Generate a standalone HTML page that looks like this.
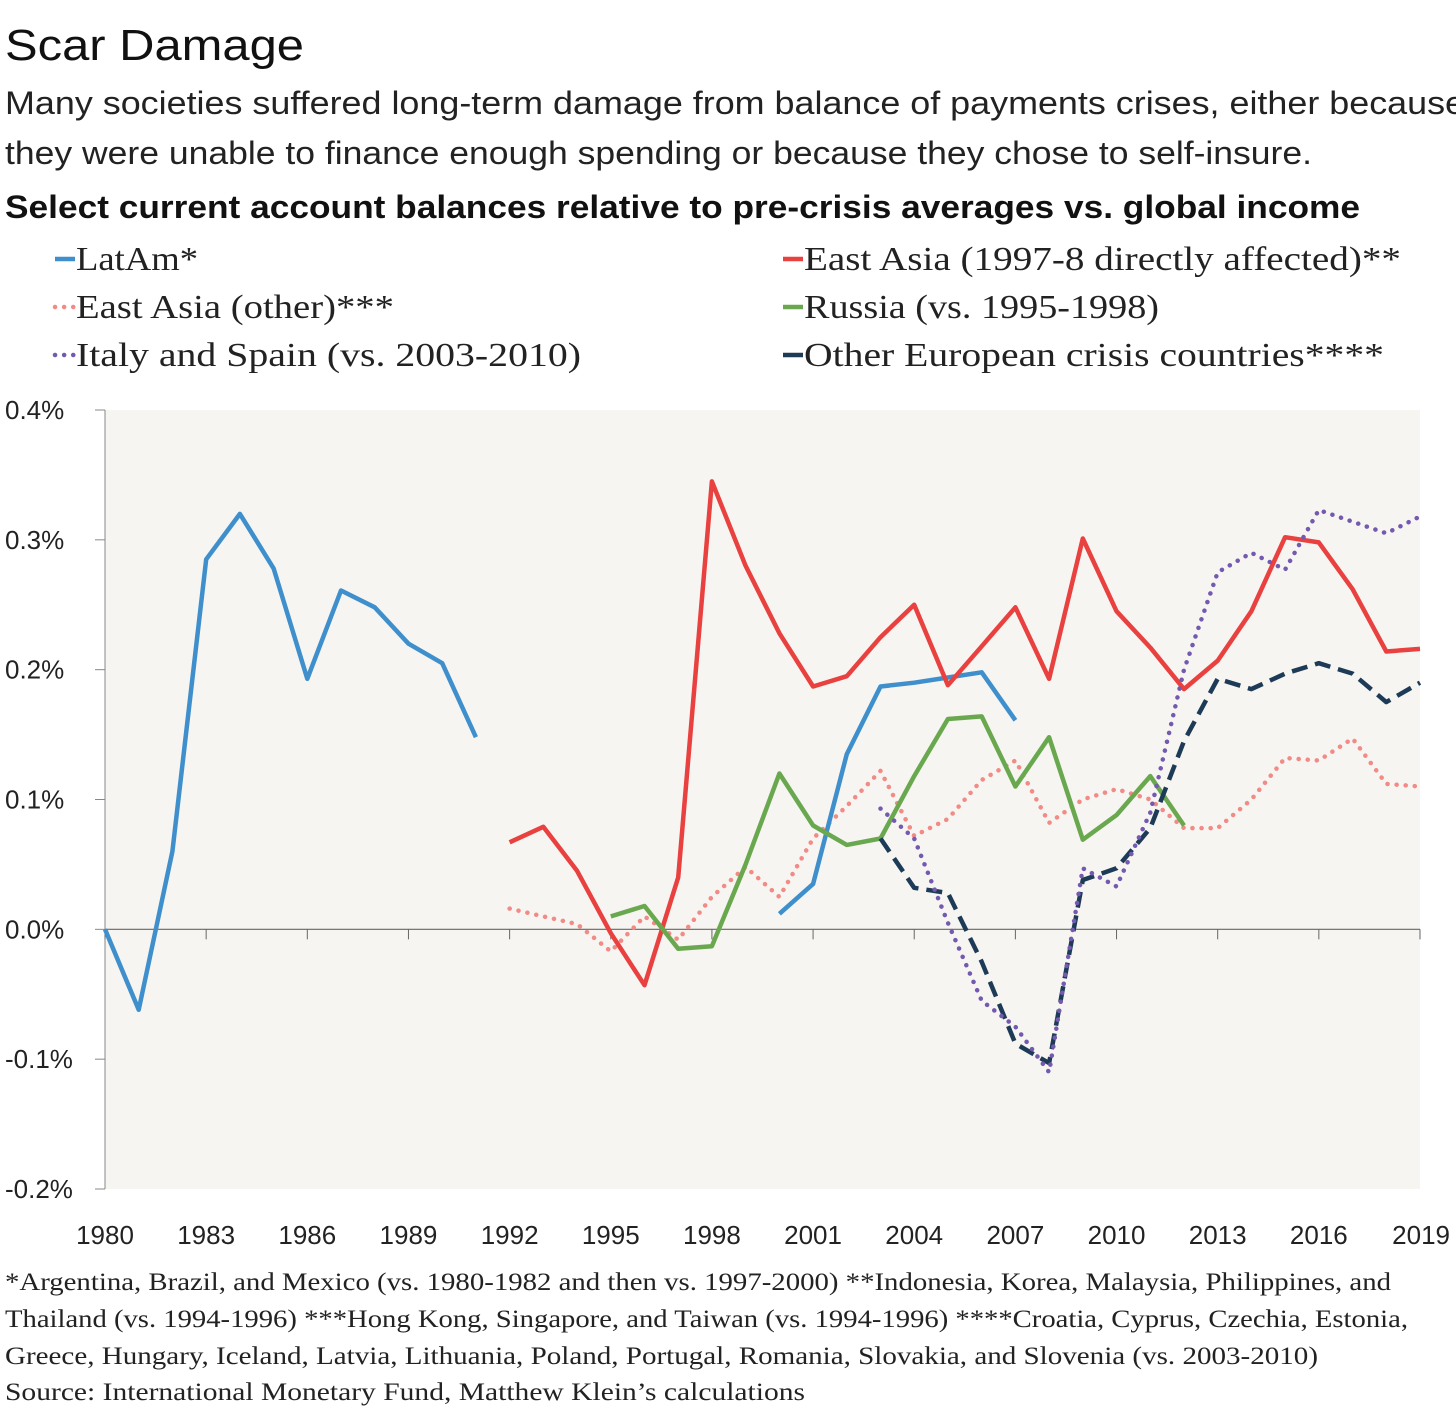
<!DOCTYPE html>
<html><head><meta charset="utf-8"><style>
body{margin:0;background:#fff;}
svg{display:block;}
.sans{font-family:"Liberation Sans",sans-serif;}
.serif{font-family:"Liberation Serif",serif;}
</style></head><body>
<svg id="chart" width="1456" height="1410" viewBox="0 0 1456 1410" xmlns="http://www.w3.org/2000/svg">
<text class="sans" x="5" y="60" font-size="44" fill="#111" textLength="299" lengthAdjust="spacingAndGlyphs">Scar Damage</text>
<text class="sans" x="5" y="114" font-size="32" fill="#222" textLength="1460" lengthAdjust="spacingAndGlyphs">Many societies suffered long-term damage from balance of payments crises, either because</text>
<text class="sans" x="5" y="164" font-size="32" fill="#222" textLength="1307" lengthAdjust="spacingAndGlyphs">they were unable to finance enough spending or because they chose to self-insure.</text>
<text class="sans" x="5" y="218" font-size="32" font-weight="bold" fill="#111" textLength="1355" lengthAdjust="spacingAndGlyphs">Select current account balances relative to pre-crisis averages vs. global income</text>
<g id="legend"></g>
<rect x="105" y="410" width="1315" height="779" fill="#f6f5f1"/>
<g id="axes"></g>
<g id="series"></g>
<g class="serif" font-size="25" fill="#222">
<text x="5" y="1290" textLength="1386" lengthAdjust="spacingAndGlyphs">*Argentina, Brazil, and Mexico (vs. 1980-1982 and then vs. 1997-2000)  **Indonesia, Korea, Malaysia, Philippines, and</text>
<text x="5" y="1327" textLength="1403" lengthAdjust="spacingAndGlyphs">Thailand  (vs. 1994-1996)  ***Hong Kong, Singapore, and Taiwan (vs. 1994-1996)  ****Croatia, Cyprus, Czechia, Estonia,</text>
<text x="5" y="1364" textLength="1313" lengthAdjust="spacingAndGlyphs">Greece, Hungary, Iceland, Latvia, Lithuania, Poland, Portugal, Romania, Slovakia, and Slovenia (vs. 2003-2010)</text>
<text x="5" y="1400" textLength="800" lengthAdjust="spacingAndGlyphs">Source: International Monetary Fund, Matthew Klein’s calculations</text>
</g>
</svg>
<script>
const NS="http://www.w3.org/2000/svg";
const latamYears1=[1980,1981,1982,1983,1984,1985,1986,1987,1988,1989,1990,1991];
const latamValues1=[0,-0.062,0.06,0.285,0.32,0.278,0.193,0.261,0.248,0.22,0.205,0.148];
const latamYears2=[2000,2001,2002,2003,2004,2005,2006,2007];
const latamValues2=[0.012,0.035,0.135,0.187,0.19,0.194,0.198,0.161];
const eaYears=[1992,1993,1994,1995,1996,1997,1998,1999,2000,2001,2002,2003,2004,2005,2006,2007,2008,2009,2010,2011,2012,2013,2014,2015,2016,2017,2018,2019];
const eaAffected=[0.067,0.079,0.045,-0.003,-0.043,0.04,0.345,0.28,0.228,0.187,0.195,0.225,0.25,0.188,0.218,0.248,0.193,0.301,0.245,0.217,0.185,0.207,0.245,0.302,0.298,0.262,0.214,0.216];
const eaOther=[0.016,0.01,0.004,-0.017,0.01,-0.008,0.025,0.048,0.025,0.07,0.095,0.122,0.072,0.085,0.115,0.13,0.082,0.1,0.108,0.1,0.078,0.078,0.1,0.132,0.13,0.147,0.112,0.11];
const russiaYears=[1995,1996,1997,1998,1999,2000,2001,2002,2003,2004,2005,2006,2007,2008,2009,2010,2011,2012];
const russiaValues=[0.01,0.018,-0.015,-0.013,0.05,0.12,0.08,0.065,0.07,0.118,0.162,0.164,0.11,0.148,0.069,0.088,0.118,0.08];
const euYears=[2003,2004,2005,2006,2007,2008,2009,2010,2011,2012,2013,2014,2015,2016,2017,2018,2019];
const italySpain=[0.093,0.07,0.005,-0.055,-0.075,-0.11,0.047,0.033,0.09,0.2,0.275,0.29,0.277,0.323,0.314,0.305,0.318];
const otherEurope=[0.07,0.032,0.028,-0.025,-0.088,-0.103,0.038,0.047,0.078,0.145,0.193,0.185,0.197,0.205,0.197,0.175,0.19];
const yTicks=[0.4,0.3,0.2,0.1,0,-0.1,-0.2];
const yTickLabels=["0.4%","0.3%","0.2%","0.1%","0.0%","-0.1%","-0.2%"];
const xTicks=[1980,1983,1986,1989,1992,1995,1998,2001,2004,2007,2010,2013,2016,2019];

const X0=105,X1=1420,Y0=410,Y1=1189;
const xs=y=>X0+(y-1980)*(X1-X0)/39;
const ys=v=>Y0+(0.4-v)*(Y1-Y0)/0.6;
function mk(tag,attrs,parent){const e=document.createElementNS(NS,tag);for(const k in attrs)e.setAttribute(k,attrs[k]);parent.appendChild(e);return e;}
const axes=document.getElementById('axes');
mk('line',{x1:X0,y1:Y0,x2:X0,y2:Y1,stroke:'#888','stroke-width':1},axes);
mk('line',{x1:X0,y1:ys(0),x2:X1,y2:ys(0),stroke:'#666','stroke-width':1.2},axes);
yTicks.forEach((v,i)=>{
  const t=mk('line',{x1:X0-10,y1:ys(v),x2:X0,y2:ys(v),stroke:'#888'},axes);
  
  
  const l=mk('text',{x:5,y:ys(v)+9,'font-size':26,fill:'#222',class:'sans'},axes);
  l.textContent=yTickLabels[i];
  
  
});
xTicks.forEach(yr=>{
  const t=mk('line',{x1:xs(yr),y1:ys(0),x2:xs(yr),y2:ys(0)+10,stroke:'#666'},axes);
  
  
  const l=mk('text',{x:yr===2019?1450:xs(yr),y:1244,'font-size':26,fill:'#222',class:'sans','text-anchor':yr===2019?'end':'middle'},axes);
  l.textContent=String(yr);
  
  
});
const series=document.getElementById('series');
function line(years,vals,color,dash,name){
  const d=years.map((y,i)=>(i?'L':'M')+xs(y).toFixed(1)+' '+ys(vals[i]).toFixed(1)).join(' ');
  const p=mk('path',{d:d,fill:'none',stroke:color,'stroke-width':4.5,'stroke-linejoin':'round','stroke-linecap':dash==='dot'?'round':'butt'},series);
  if(dash==='dot')p.setAttribute('stroke-dasharray','0.1 9');
  if(dash==='dash')p.setAttribute('stroke-dasharray','16 8');
  
  
}
const C={latam:'#3f8fcc',ea:'#e8413f',eao:'#f28a86',ru:'#6aa84f',it:'#7459b0',eu:'#1d3a57'};
line(eaYears,eaOther,C.eao,'dot','east-asia-other-line');
line(latamYears1,latamValues1,C.latam,null,'latam-line-1980s');
line(latamYears2,latamValues2,C.latam,null,'latam-line-2000s');
line(eaYears,eaAffected,C.ea,null,'east-asia-affected-line');
line(russiaYears,russiaValues,C.ru,null,'russia-line');
line(euYears,otherEurope,C.eu,'dash','other-europe-line');
line(euYears,italySpain,C.it,'dot','italy-spain-line');

const legend=document.getElementById('legend');
const legendItems=[
 [55,270,C.latam,null,'LatAm*',122,'legend-latam'],
 [783,270,C.ea,null,'East Asia (1997-8 directly affected)**',597,'legend-east-asia-affected'],
 [55,318,C.eao,'dot','East Asia (other)***',318,'legend-east-asia-other'],
 [783,318,C.ru,null,'Russia (vs. 1995-1998)',355,'legend-russia'],
 [55,366,C.it,'dot','Italy and Spain (vs. 2003-2010)',505,'legend-italy-spain'],
 [783,366,C.eu,'dash','Other European crisis countries****',580,'legend-other-europe']
];
legendItems.forEach(it=>{
  const g=mk('g',{},legend);
  
  
  const l=mk('line',{x1:it[0],y1:it[1]-11,x2:it[0]+20,y2:it[1]-11,stroke:it[2],'stroke-width':4.5,'stroke-linecap':it[3]==='dot'?'round':'butt'},g);
  if(it[3]==='dot')l.setAttribute('stroke-dasharray','0.1 9');
  const t=mk('text',{x:it[0]+21,y:it[1],'font-size':34,fill:'#222',class:'serif',textLength:it[5],lengthAdjust:'spacingAndGlyphs'},g);
  t.textContent=it[4];
});
</script>
</body></html>
